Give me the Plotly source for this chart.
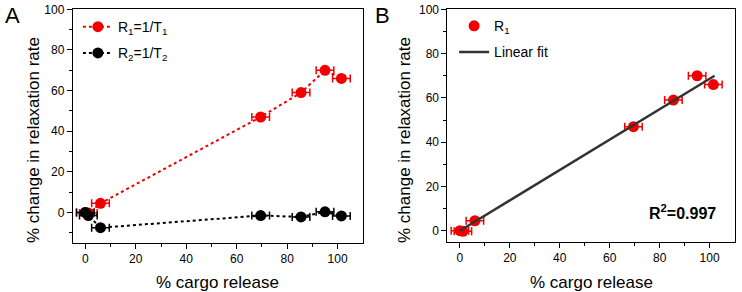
import plotly.graph_objects as go

# ---------- data ----------
cargo_release = [0, 1.2, 6, 69.5, 85.5, 95, 101.5]
cargo_err = [3.5, 3.5, 3.5, 3.5, 3.5, 3.5, 3.5]
r1_change = [0, -0.3, 4.5, 47, 59, 70, 66]
r2_change = [0, -1.5, -7.5, -1.5, -2.2, 0.3, -1.7]
fit_x = [0, 102]
fit_y = [0, 70]
x_ticks = [0, 20, 40, 60, 80, 100]
y_ticks = [0, 20, 40, 60, 80, 100]
r2_label = "R<sup>2</sup>=0.997"
x_title = "% cargo release"
y_title = "% change in relaxation rate"

RED = "#f00000"
BLACK = "#000000"
FONT = "Arial, Liberation Sans, sans-serif"

fig = go.Figure()

# Panel A
fig.add_trace(go.Scatter(
    x=cargo_release, y=r1_change, mode="lines+markers",
    name="R<sub>1</sub>=1/T<sub>1</sub>", legendgroup="a1",
    line=dict(color=RED, width=2, dash="dot"),
    marker=dict(color=RED, size=11),
    error_x=dict(type="data", array=cargo_err, color=RED, thickness=1.5, width=4),
    xaxis="x", yaxis="y", legend="legend"))
fig.add_trace(go.Scatter(
    x=cargo_release, y=r2_change, mode="lines+markers",
    name="R<sub>2</sub>=1/T<sub>2</sub>", legendgroup="a2",
    line=dict(color=BLACK, width=2, dash="dot"),
    marker=dict(color=BLACK, size=11),
    error_x=dict(type="data", array=cargo_err, color=BLACK, thickness=1.5, width=4),
    xaxis="x", yaxis="y", legend="legend"))

# Panel B
fig.add_trace(go.Scatter(
    x=cargo_release, y=r1_change, mode="markers",
    name="R<sub>1</sub>", legendgroup="b1",
    marker=dict(color=RED, size=11),
    error_x=dict(type="data", array=cargo_err, color=RED, thickness=1.5, width=4),
    xaxis="x2", yaxis="y2", legend="legend2"))
fig.add_trace(go.Scatter(
    x=fit_x, y=fit_y, mode="lines", name="Linear fit", legendgroup="b2",
    line=dict(color="#333333", width=2.5),
    xaxis="x2", yaxis="y2", legend="legend2"))

tickfont = dict(family=FONT, size=12, color="black")
titlefont = dict(family=FONT, size=17, color="black")

def xax(domain, anchor):
    return dict(domain=domain, anchor=anchor, range=[-5, 110], automargin=False,
                tickmode="array", tickvals=x_ticks,
                ticks="outside", ticklen=5, tickwidth=1, tickcolor="black",
                minor=dict(tickvals=[10, 30, 50, 70, 90], ticks="outside",
                           ticklen=3, tickcolor="black", showgrid=False),
                showline=True, linecolor="black", linewidth=1, mirror=True,
                showgrid=False, zeroline=False, tickfont=tickfont)

def yax(domain, anchor, rng, minors):
    return dict(domain=domain, anchor=anchor, range=rng, automargin=False,
                tickmode="array", tickvals=y_ticks,
                ticks="outside", ticklen=5, tickwidth=1, tickcolor="black",
                minor=dict(tickvals=minors, ticks="outside",
                           ticklen=3, tickcolor="black", showgrid=False),
                showline=True, linecolor="black", linewidth=1, mirror=True,
                showgrid=False, zeroline=False, tickfont=tickfont)

def yright(overlay, anchor, rng, minors):
    return dict(overlaying=overlay, anchor=anchor, side="right", range=rng,
                automargin=False, tickmode="array", tickvals=y_ticks,
                ticks="inside", ticklen=5, tickcolor="black",
                minor=dict(tickvals=minors, ticks="inside", ticklen=3,
                           tickcolor="black", showgrid=False),
                showticklabels=False, showgrid=False, zeroline=False, showline=False)

def xtop(overlay, anchor):
    return dict(overlaying=overlay, anchor=anchor, side="top", range=[-5, 110],
                automargin=False, tickmode="array", tickvals=x_ticks,
                ticks="inside", ticklen=5, tickcolor="black",
                minor=dict(tickvals=[10, 30, 50, 70, 90], ticks="inside", ticklen=3,
                           tickcolor="black", showgrid=False),
                showticklabels=False, showgrid=False, zeroline=False, showline=False)

yA = [0.168, 0.968]
yB = [0.172, 0.968]
xA = [0.098, 0.489]
xB = [0.603, 0.990]
fig.update_layout(
    width=742, height=292,
    margin=dict(l=0, r=0, t=0, b=0, autoexpand=False),
    plot_bgcolor="white", paper_bgcolor="white",
    font=dict(family=FONT, color="black"),
    xaxis=xax(xA, "y"),
    yaxis=yax(yA, "x", [-15, 100], [-10, 10, 30, 50, 70, 90]),
    xaxis2=xax(xB, "y2"),
    yaxis2=yax(yB, "x2", [-5, 100], [10, 30, 50, 70, 90]),
    yaxis3=yright("y", "x", [-15, 100], [-10, 10, 30, 50, 70, 90]),
    yaxis4=yright("y2", "x2", [-5, 100], [10, 30, 50, 70, 90]),
    xaxis3=xtop("x", "y"),
    xaxis4=xtop("x2", "y2"),
    legend=dict(x=0.105, y=0.962, xanchor="left", yanchor="top",
                bgcolor="rgba(0,0,0,0)", font=dict(family=FONT, size=14),
                itemwidth=30, tracegroupgap=5),
    legend2=dict(x=0.612, y=0.965, xanchor="left", yanchor="top",
                 bgcolor="rgba(0,0,0,0)", font=dict(family=FONT, size=14),
                 itemwidth=30, tracegroupgap=5),
    showlegend=True,
    annotations=[
        dict(text="A", x=0.004, y=0.995, xref="paper", yref="paper",
             xanchor="left", yanchor="top", showarrow=False,
             font=dict(family=FONT, size=22)),
        dict(text="B", x=0.503, y=0.995, xref="paper", yref="paper",
             xanchor="left", yanchor="top", showarrow=False,
             font=dict(family=FONT, size=22)),
        dict(text="<b>" + r2_label + "</b>", x=0.968, y=0.275,
             xref="paper", yref="paper", xanchor="right", yanchor="middle",
             showarrow=False, font=dict(family=FONT, size=16)),
        dict(text=x_title, x=(xA[0] + xA[1]) / 2, y=0.031, xref="paper", yref="paper",
             xanchor="center", yanchor="middle", showarrow=False, font=titlefont),
        dict(text=x_title, x=(xB[0] + xB[1]) / 2, y=0.031, xref="paper", yref="paper",
             xanchor="center", yanchor="middle", showarrow=False, font=titlefont),
        dict(text=y_title, x=33 / 742, y=0.5205, xref="paper", yref="paper",
             xanchor="center", yanchor="middle", showarrow=False, textangle=-90,
             font=titlefont),
        dict(text=y_title, x=404 / 742, y=0.5205, xref="paper", yref="paper",
             xanchor="center", yanchor="middle", showarrow=False, textangle=-90,
             font=titlefont),
    ],
)

fig.write_html("out.html", config={"displayModeBar": False},
               post_script="document.body.style.margin='0';document.body.style.overflow='hidden';")
